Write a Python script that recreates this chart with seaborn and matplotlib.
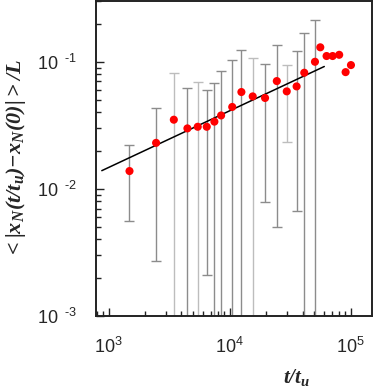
import matplotlib

matplotlib.use("Agg")
import matplotlib.pyplot as plt
import numpy as np
import pandas as pd
import seaborn as sns
from matplotlib.ticker import FuncFormatter

# Data
t_ratio = [1490, 2470, 3460, 4480, 5450, 6470, 7480, 8500, 10500, 12500,
           15500, 19600, 24500, 29600, 35700, 41300, 50600, 56000, 63100,
           70800, 80200, 90600, 100300]
disp = [0.0138, 0.0230, 0.0350, 0.0299, 0.0308, 0.0308, 0.0338, 0.0378,
        0.0441, 0.0578, 0.0534, 0.0519, 0.0705, 0.0585, 0.0640, 0.0820,
        0.100, 0.130, 0.111, 0.111, 0.1135, 0.0829, 0.0942]
# symmetric error bars (only for the first 17 points)
disp_err = [0.0082, 0.0203, 0.047, 0.0322, 0.0389, 0.0287, 0.0343, 0.0467,
            0.059, 0.0658, 0.0536, 0.044, 0.0655, 0.035, 0.0573, 0.086,
            0.113]
# power-law fit line end points
fit_t = [880, 60400]
fit_disp = [0.0139, 0.0918]

sns.set_style("ticks")
plt.rcParams["font.family"] = ["Liberation Sans", "DejaVu Sans"]
plt.rcParams["mathtext.fontset"] = "custom"
plt.rcParams["mathtext.rm"] = "Liberation Sans"
plt.rcParams["mathtext.it"] = "Liberation Sans:italic"
plt.rcParams["mathtext.bf"] = "Liberation Sans:bold"
plt.rcParams["mathtext.bfit"] = "Liberation Serif:italic:bold"

df = pd.DataFrame({"t": t_ratio, "d": disp})
fit = pd.DataFrame({"t": fit_t, "d": fit_disp})

fig = plt.figure(figsize=(3.74, 3.89), dpi=100)
ax = fig.add_axes([0.257, 0.188, 0.738, 0.809])

n_err = len(disp_err)
bar_colors = ["#8c8c8c", "#8c8c8c", "#bdbdbd", "#8c8c8c", "#bdbdbd",
              "#8c8c8c", "#8c8c8c", "#8c8c8c", "#8c8c8c", "#8c8c8c",
              "#bdbdbd", "#8c8c8c", "#8c8c8c", "#bdbdbd", "#8c8c8c",
              "#8c8c8c", "#8c8c8c"]
for i in range(n_err):
    ax.errorbar(t_ratio[i], disp[i], yerr=disp_err[i], fmt="none",
                ecolor=bar_colors[i], elinewidth=1.0, capsize=3.5,
                capthick=1.0, zorder=1)

sns.lineplot(data=fit, x="t", y="d", color="black", linewidth=1.1, ax=ax,
             zorder=2)
sns.scatterplot(data=df, x="t", y="d", color="#ff0000", s=34,
                edgecolor="none", ax=ax, zorder=3)

ax.set_xscale("log")
ax.set_yscale("log")
ax.set_xlim(790, 1.5e5)
ax.set_ylim(1e-3, 0.3)


def y_fmt(v, pos):
    e = int(round(np.log10(v)))
    return r"$\mathregular{10}^{\ \ \text{%d}}$" % e


def x_fmt(v, pos):
    e = int(round(np.log10(v)))
    return r"$\mathregular{10}^{\text{%d}}$" % e


ax.yaxis.set_major_formatter(FuncFormatter(y_fmt))
ax.xaxis.set_major_formatter(FuncFormatter(x_fmt))

for side in ["top", "right", "left", "bottom"]:
    ax.spines[side].set_linewidth(1.4)
    ax.spines[side].set_color("#222222")

ax.tick_params(which="major", direction="in", length=6, width=1.0,
               labelsize=13, top=False, right=False, color="#222222")
ax.tick_params(which="minor", direction="in", length=3.5, width=1.0,
               top=False, right=False, color="#222222")
ax.tick_params(axis="y", which="major", pad=14)
ax.tick_params(axis="x", which="major", pad=15)

ax.set_ylabel(r"$\mathbfit{<|x_N(t/t_u){-}x_N(0)|>/L}$", fontsize=16,
              labelpad=6)
ax.set_xlabel(r"$\mathbfit{t/t_u}$", fontsize=15)
ax.xaxis.set_label_coords(0.728, -0.163)

fig.savefig("out.png", dpi=100)
